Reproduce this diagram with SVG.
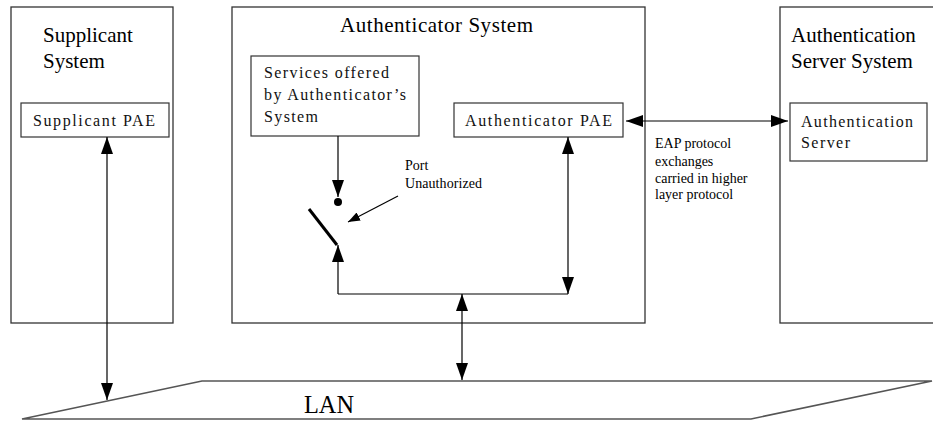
<svg xmlns="http://www.w3.org/2000/svg" width="933" height="421" viewBox="0 0 933 421">
<style>
.sys{fill:#fff;stroke:#333;stroke-width:1.3}
.box{fill:#fff;stroke:#333;stroke-width:1.2}
text{font-family:"Liberation Serif",Tinos,"DejaVu Serif","Noto Serif",serif}
.title{font-size:21px;fill:#000}
.lbl{font-size:16px;fill:#111}
.small{font-size:14px;fill:#000}
.conn line{stroke:#000;stroke-width:1.2;fill:none}
</style>
<defs>
<marker id="ah" viewBox="0 0 17 12" refX="17" refY="6" markerWidth="17" markerHeight="12" markerUnits="userSpaceOnUse" orient="auto-start-reverse">
<path d="M0,0 L17,6 L0,12 z" fill="#000"/>
</marker>
<marker id="ahs" viewBox="0 0 12 9" refX="12" refY="4.5" markerWidth="12" markerHeight="9" markerUnits="userSpaceOnUse" orient="auto">
<path d="M0,0 L12,4.5 L0,9 z" fill="#000"/>
</marker>
</defs>
<rect width="933" height="421" fill="#fff"/>

<g id="supplicant-system">
<rect class="sys" x="11" y="7" width="162" height="316"/>
<text class="title" x="43" y="42">Supplicant</text>
<text class="title" x="43" y="68">System</text>
</g>
<g id="supplicant-pae">
<rect class="box" x="21" y="103" width="148" height="34"/>
<text class="lbl" x="33" y="126" textLength="122" lengthAdjust="spacing">Supplicant PAE</text>
</g>

<g id="authenticator-system">
<rect class="sys" x="232" y="7" width="413" height="316"/>
<text class="title" x="340" y="32" textLength="193" lengthAdjust="spacing">Authenticator System</text>
</g>
<g id="services">
<rect class="box" x="251" y="56" width="168" height="80"/>
<text class="lbl" x="264" y="78" textLength="125" lengthAdjust="spacing">Services offered</text>
<text class="lbl" x="264" y="100" textLength="142" lengthAdjust="spacing">by Authenticator’s</text>
<text class="lbl" x="264" y="122" textLength="54" lengthAdjust="spacing">System</text>
</g>
<g id="authenticator-pae">
<rect class="box" x="454" y="103" width="169" height="34"/>
<text class="lbl" x="465" y="126" textLength="147" lengthAdjust="spacing">Authenticator PAE</text>
</g>
<g id="port">
<circle cx="338" cy="202" r="4" fill="#000"/>
<line x1="309" y1="209" x2="337" y2="245" stroke="#000" stroke-width="3"/>
<text class="small" x="405" y="170">Port</text>
<text class="small" x="405" y="188" textLength="77" lengthAdjust="spacing">Unauthorized</text>
</g>

<g id="auth-server-system">
<rect class="sys" x="780" y="7" width="160" height="316"/>
<text class="title" x="791" y="42">Authentication</text>
<text class="title" x="791" y="68">Server System</text>
</g>
<g id="auth-server">
<rect class="box" x="790" y="103" width="137" height="58"/>
<text class="lbl" x="801" y="127" textLength="112" lengthAdjust="spacing">Authentication</text>
<text class="lbl" x="801" y="148" textLength="49" lengthAdjust="spacing">Server</text>
</g>

<g id="eap-label">
<text class="small" x="655" y="148">EAP protocol</text>
<text class="small" x="655" y="166">exchanges</text>
<text class="small" x="655" y="183">carried in higher</text>
<text class="small" x="655" y="199">layer protocol</text>
</g>

<g id="lan">
<polygon points="22,419 202,381 932,381 751,419" fill="#fff" stroke="#555" stroke-width="1.6"/>
<text x="304" y="413" font-size="26" textLength="50" lengthAdjust="spacingAndGlyphs">LAN</text>
</g>

<g id="connectors" class="conn">
<line x1="107" y1="137" x2="107" y2="400" marker-start="url(#ah)" marker-end="url(#ah)"/>
<line x1="626" y1="121" x2="788" y2="121" marker-start="url(#ah)" marker-end="url(#ah)"/>
<line x1="338" y1="136" x2="338" y2="197" marker-end="url(#ah)"/>
<line x1="338" y1="294" x2="338" y2="245" marker-end="url(#ah)"/>
<line x1="338" y1="294" x2="568" y2="294"/>
<line x1="568" y1="137" x2="568" y2="294" marker-start="url(#ah)" marker-end="url(#ah)"/>
<line x1="462" y1="294" x2="462" y2="380" marker-start="url(#ah)" marker-end="url(#ah)"/>
<line x1="398" y1="196" x2="348" y2="222" marker-end="url(#ahs)"/>
</g>
</svg>
